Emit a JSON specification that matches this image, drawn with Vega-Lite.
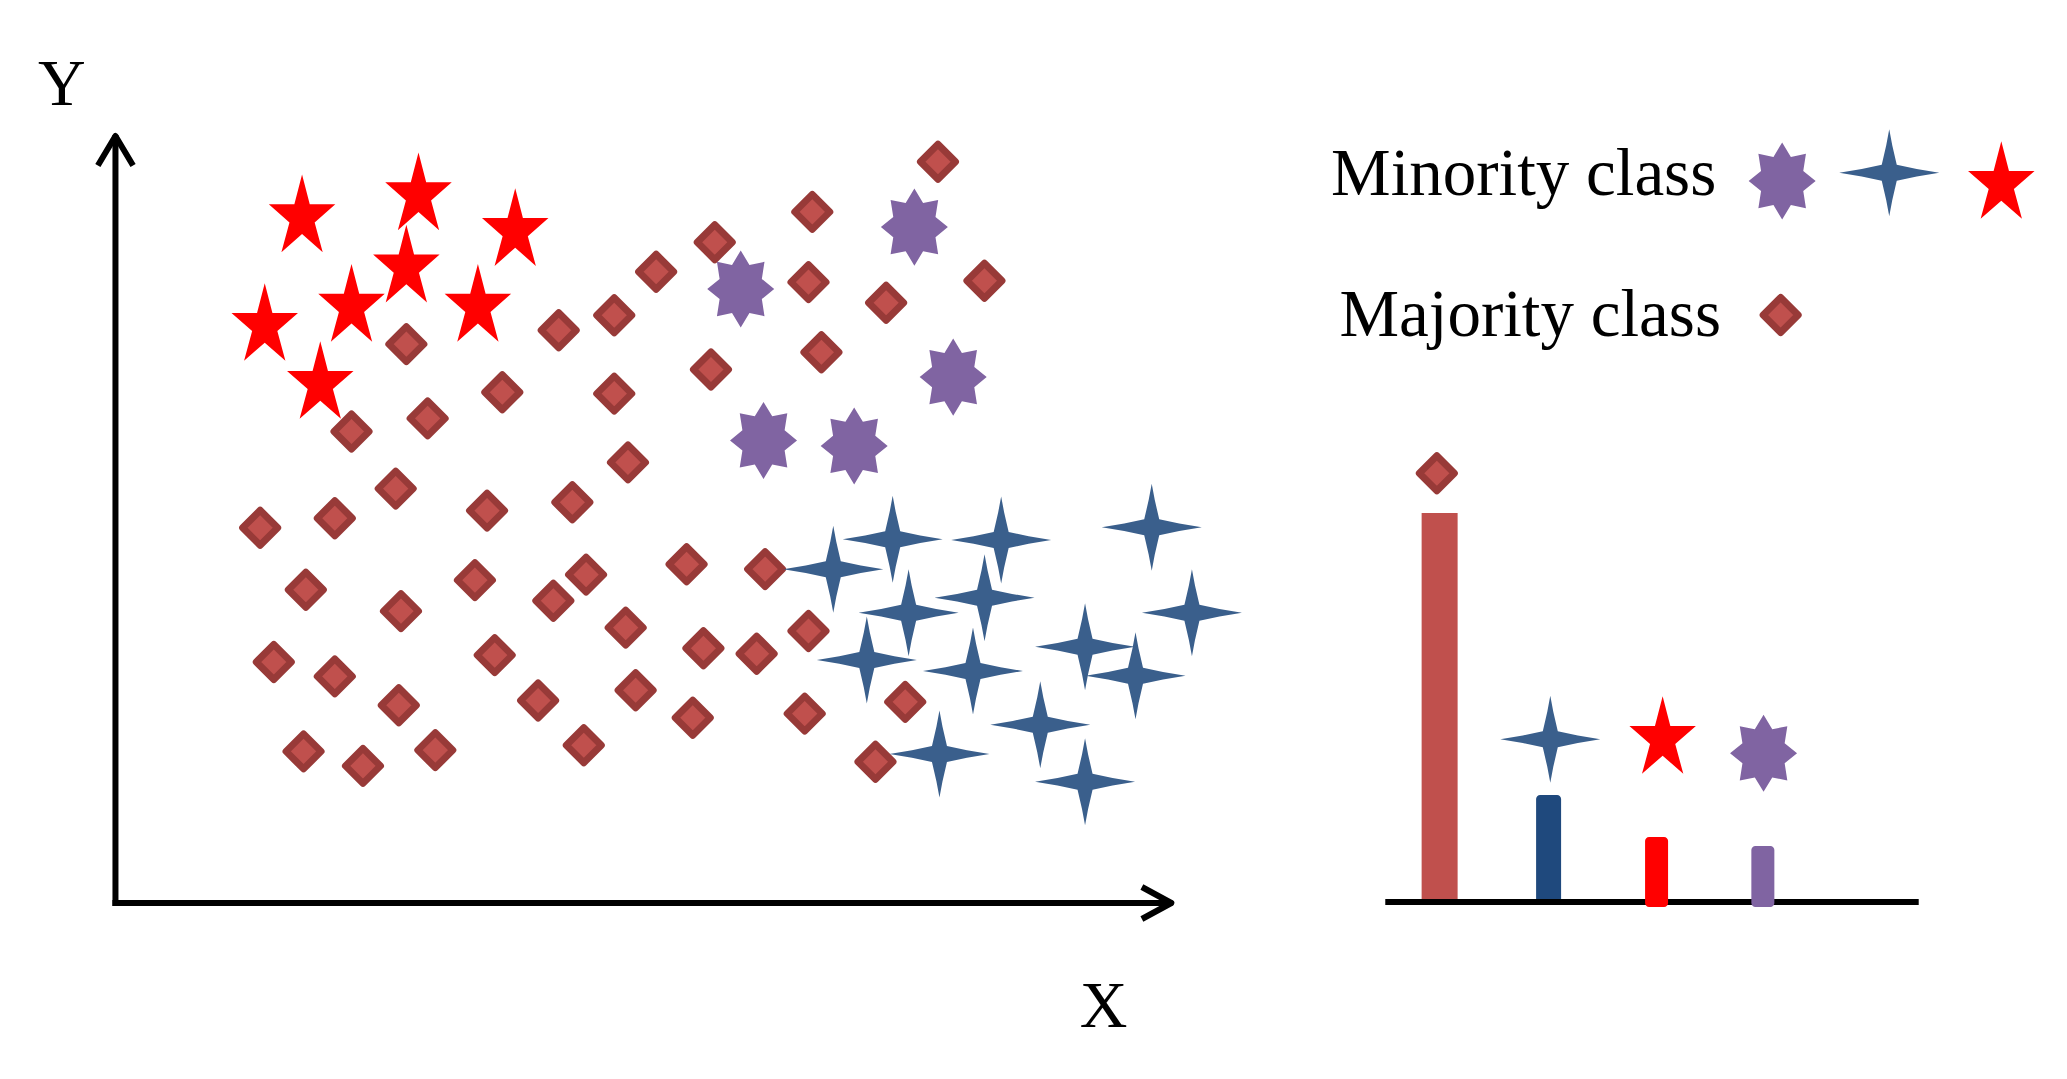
{
  "$schema": "https://vega.github.io/schema/vega-lite/v6.json",
  "width": 2067,
  "height": 1079,
  "autosize": {"type": "none"},
  "padding": 0,
  "background": "white",
  "config": {"view": {"stroke": null}},
  "datasets": {
    "symbols": [
      {"cls": "majority", "x": 826.5, "y": 741.3},
      {"cls": "majority", "x": 700.2, "y": 691.1},
      {"cls": "majority", "x": 602.2, "y": 660.8},
      {"cls": "majority", "x": 543.3, "y": 631.2},
      {"cls": "majority", "x": 696.4, "y": 620.9},
      {"cls": "majority", "x": 873.2, "y": 622.2},
      {"cls": "majority", "x": 774.4, "y": 600.2},
      {"cls": "majority", "x": 501.2, "y": 587.8},
      {"cls": "majority", "x": 445.4, "y": 572.7},
      {"cls": "majority", "x": 292.3, "y": 558.9},
      {"cls": "majority", "x": 709.4, "y": 550.7},
      {"cls": "majority", "x": 598.4, "y": 533.5},
      {"cls": "majority", "x": 388.7, "y": 510.8},
      {"cls": "majority", "x": 501.2, "y": 509.4},
      {"cls": "majority", "x": 313.7, "y": 484.6},
      {"cls": "majority", "x": 237.2, "y": 471.5},
      {"cls": "majority", "x": 515.0, "y": 440.6},
      {"cls": "majority", "x": 281.6, "y": 414.4},
      {"cls": "majority", "x": 373.4, "y": 392.4},
      {"cls": "majority", "x": 459.1, "y": 400.7},
      {"cls": "majority", "x": 145.4, "y": 375.2},
      {"cls": "majority", "x": 220.4, "y": 384.8},
      {"cls": "majority", "x": 573.9, "y": 338.7},
      {"cls": "majority", "x": 652.8, "y": 333.9},
      {"cls": "majority", "x": 472.9, "y": 328.4},
      {"cls": "majority", "x": 361.2, "y": 322.9},
      {"cls": "majority", "x": 191.3, "y": 313.3},
      {"cls": "majority", "x": 440.0, "y": 302.3},
      {"cls": "majority", "x": 286.9, "y": 291.9},
      {"cls": "majority", "x": 512.7, "y": 275.4},
      {"cls": "majority", "x": 696.4, "y": 272.0},
      {"cls": "majority", "x": 590.8, "y": 254.8},
      {"cls": "majority", "x": 644.3, "y": 249.3},
      {"cls": "majority", "x": 381.1, "y": 247.9},
      {"cls": "majority", "x": 159.1, "y": 241.0},
      {"cls": "majority", "x": 220.4, "y": 226.6},
      {"cls": "majority", "x": 793.6, "y": 201.1},
      {"cls": "majority", "x": 284.7, "y": 197.7},
      {"cls": "majority", "x": 424.7, "y": 202.5},
      {"cls": "majority", "x": 522.7, "y": 212.8},
      {"cls": "majority", "x": 580.1, "y": 185.3},
      {"cls": "majority", "x": 692.6, "y": 189.4},
      {"cls": "majority", "x": 189.0, "y": 151.6},
      {"cls": "majority", "x": 248.7, "y": 137.1},
      {"cls": "majority", "x": 321.4, "y": 152.9},
      {"cls": "majority", "x": 470.6, "y": 157.8},
      {"cls": "majority", "x": 763.7, "y": 141.2},
      {"cls": "majority", "x": 1673.3, "y": 588.0},
      {"cls": "majority", "x": 1327.8, "y": 429.7},
      {"cls": "blue", "x": 781.0, "y": 363.7},
      {"cls": "blue", "x": 890.0, "y": 363.0},
      {"cls": "blue", "x": 1041.3, "y": 375.7},
      {"cls": "blue", "x": 721.3, "y": 333.7},
      {"cls": "blue", "x": 873.3, "y": 305.3},
      {"cls": "blue", "x": 797.0, "y": 290.3},
      {"cls": "blue", "x": 1081.7, "y": 290.3},
      {"cls": "blue", "x": 974.3, "y": 256.3},
      {"cls": "blue", "x": 755.0, "y": 243.0},
      {"cls": "blue", "x": 861.7, "y": 232.0},
      {"cls": "blue", "x": 1025.0, "y": 227.3},
      {"cls": "blue", "x": 929.3, "y": 178.3},
      {"cls": "blue", "x": 828.0, "y": 149.0},
      {"cls": "blue", "x": 974.3, "y": 121.3},
      {"cls": "blue", "x": 1782.4, "y": 730.3},
      {"cls": "blue", "x": 1441.8, "y": 163.7},
      {"cls": "red", "x": 187.5, "y": 689.7},
      {"cls": "red", "x": 304.5, "y": 711.7},
      {"cls": "red", "x": 401.7, "y": 675.9},
      {"cls": "red", "x": 292.3, "y": 639.4},
      {"cls": "red", "x": 237.2, "y": 600.2},
      {"cls": "red", "x": 364.2, "y": 600.2},
      {"cls": "red", "x": 150.0, "y": 581.0},
      {"cls": "red", "x": 205.8, "y": 523.0},
      {"cls": "red", "x": 1895.0, "y": 723.0},
      {"cls": "red", "x": 1554.7, "y": 168.0},
      {"cls": "purple", "x": 802.8, "y": 675.9},
      {"cls": "purple", "x": 628.3, "y": 614.0},
      {"cls": "purple", "x": 841.8, "y": 525.9},
      {"cls": "purple", "x": 651.2, "y": 462.6},
      {"cls": "purple", "x": 742.3, "y": 457.1},
      {"cls": "purple", "x": 1674.8, "y": 722.0},
      {"cls": "purple", "x": 1656.1, "y": 149.7}
    ],
    "bars": [
      {"cls": "majority", "x": 1330.6, "value": 390},
      {"cls": "blue", "x": 1440.1, "value": 108},
      {"cls": "red", "x": 1548.6, "value": 66},
      {"cls": "purple", "x": 1655.4, "value": 57}
    ],
    "lines": [
      {"x": 0, "y": 0, "x2": 0, "y2": 765},
      {"x": 0, "y": 0, "x2": 1059, "y2": 0},
      {"x": 1279, "y": 1, "x2": 1809, "y2": 1}
    ],
    "arrows": [
      {"dir": "up", "x": 0, "y": 767},
      {"dir": "right", "x": 1061, "y": 0}
    ],
    "texts": [
      {"kind": "axis", "label": "Y", "x": -54, "y": 798},
      {"kind": "axis", "label": "X", "x": 993, "y": -124},
      {"kind": "legend", "label": "Minority class", "x": 1221.5, "y": 708},
      {"kind": "legend", "label": "Majority class", "x": 1230, "y": 567}
    ]
  },
  "encoding": {
    "x": {"field": "x", "type": "quantitative", "scale": {"domain": [-111, 1956], "nice": false, "zero": false}, "axis": null},
    "y": {"field": "y", "type": "quantitative", "scale": {"domain": [-176, 903], "nice": false, "zero": false}, "axis": null}
  },
  "layer": [
    {
      "data": {"name": "bars"},
      "transform": [{"filter": "datum.cls === 'majority'"}],
      "mark": {"type": "bar", "size": 36, "color": "#c0504d"},
      "encoding": {
        "y": {"field": "value", "type": "quantitative", "scale": {"domain": [-176, 903], "nice": false, "zero": false}, "axis": null},
        "y2": {"datum": 0}
      }
    },
    {
      "data": {"name": "bars"},
      "transform": [{"filter": "datum.cls === 'blue'"}],
      "mark": {"type": "bar", "size": 25, "color": "#1f497d", "cornerRadiusTopLeft": 4, "cornerRadiusTopRight": 4},
      "encoding": {
        "y": {"field": "value", "type": "quantitative", "scale": {"domain": [-176, 903], "nice": false, "zero": false}, "axis": null},
        "y2": {"datum": 0}
      }
    },
    {
      "data": {"name": "lines"},
      "mark": {"type": "rule", "color": "black", "strokeWidth": 6, "strokeCap": "square"},
      "encoding": {
        "x2": {"field": "x2"},
        "y2": {"field": "y2"}
      }
    },
    {
      "data": {"name": "bars"},
      "transform": [{"filter": "datum.cls === 'red' || datum.cls === 'purple'"}],
      "mark": {"type": "bar", "size": 23, "cornerRadius": 4},
      "encoding": {
        "y": {"field": "value", "type": "quantitative", "scale": {"domain": [-176, 903], "nice": false, "zero": false}, "axis": null},
        "y2": {"datum": -4},
        "color": {"field": "cls", "type": "nominal", "scale": {"domain": ["red", "purple"], "range": ["#ff0000", "#8064a2"]}, "legend": null}
      }
    },
    {
      "data": {"name": "arrows"},
      "mark": {"type": "point", "filled": false, "stroke": "black", "strokeWidth": 6, "size": 4096, "opacity": 1, "strokeJoin": "round"},
      "encoding": {
        "shape": {"field": "dir", "type": "nominal", "scale": {"domain": ["up", "right"], "range": ["M-0.55,0.92L0,0L0.55,0.92", "M-0.92,-0.5L0,0L-0.92,0.5"]}, "legend": null}
      }
    },
    {
      "data": {"name": "symbols"},
      "transform": [{"filter": "datum.cls === 'majority'"}],
      "mark": {"type": "point", "shape": "diamond", "filled": true, "fill": "#c0504d", "stroke": "#983a38", "strokeWidth": 7, "strokeJoin": "round", "size": 1225, "opacity": 1}
    },
    {
      "data": {"name": "symbols"},
      "transform": [{"filter": "datum.cls === 'blue'"}],
      "mark": {"type": "point", "shape": "M0,-0.87L0.06,-0.55L0.15,-0.16L0.55,-0.075L1,0L0.55,0.075L0.15,0.16L0.06,0.55L0,0.87L-0.06,0.55L-0.15,0.16L-0.55,0.075L-1,0L-0.55,-0.075L-0.15,-0.16L-0.06,-0.55Z", "filled": true, "color": "#3a5f8c", "strokeWidth": 0, "size": 10000, "opacity": 1}
    },
    {
      "data": {"name": "symbols"},
      "transform": [{"filter": "datum.cls === 'red'"}],
      "mark": {"type": "point", "shape": "M0,-1.11L0.22,-0.26L0.95,-0.26L0.36,0.26L0.59,1.11L0,0.59L-0.59,1.11L-0.36,0.26L-0.95,-0.26L-0.22,-0.26Z", "filled": true, "color": "#ff0000", "strokeWidth": 0, "size": 4900, "opacity": 1}
    },
    {
      "data": {"name": "symbols"},
      "transform": [{"filter": "datum.cls === 'purple'"}],
      "mark": {"type": "point", "shape": "M0,-1.15L0.26,-0.72L0.71,-0.81L0.63,-0.3L1,0L0.63,0.3L0.71,0.81L0.26,0.72L0,1.15L-0.26,0.72L-0.71,0.81L-0.63,0.3L-1,0L-0.63,-0.3L-0.71,-0.81L-0.26,-0.72Z", "filled": true, "color": "#8064a2", "strokeWidth": 0, "size": 4489, "opacity": 1}
    },
    {
      "data": {"name": "texts"},
      "transform": [{"filter": "datum.kind === 'axis'"}],
      "mark": {"type": "text", "font": "Liberation Serif", "fontSize": 66, "color": "black", "align": "center", "baseline": "alphabetic"},
      "encoding": {"text": {"field": "label"}}
    },
    {
      "data": {"name": "texts"},
      "transform": [{"filter": "datum.kind === 'legend'"}],
      "mark": {"type": "text", "font": "Liberation Serif", "fontSize": 67, "color": "black", "align": "left", "baseline": "alphabetic"},
      "encoding": {"text": {"field": "label"}}
    }
  ]
}
